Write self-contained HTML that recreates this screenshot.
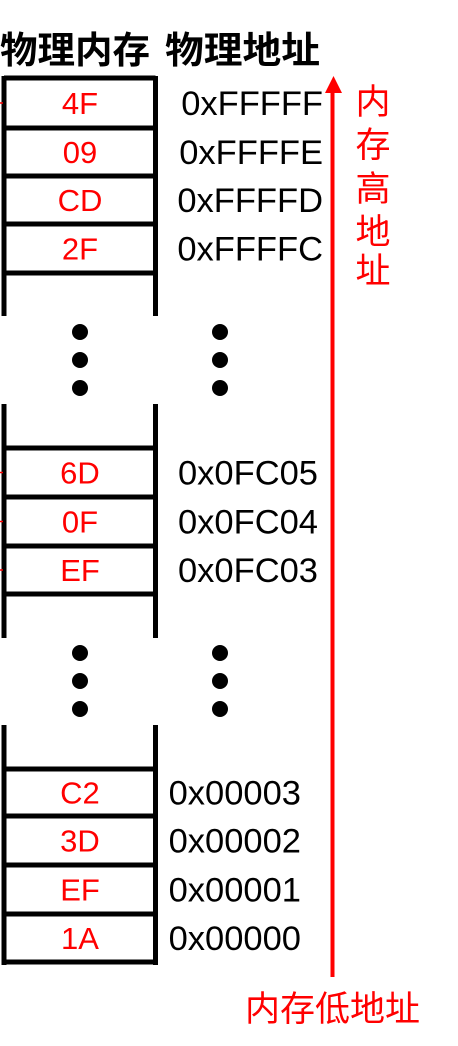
<!DOCTYPE html>
<html><head><meta charset="utf-8"><style>
html,body{margin:0;padding:0;background:#fff;}
svg{display:block}
.t{font-family:"Liberation Sans","Noto Sans CJK SC",sans-serif;}
</style></head><body>
<svg width="458" height="1046" viewBox="0 0 458 1046" xmlns="http://www.w3.org/2000/svg">
<text class="t" x="0" y="63" font-size="37" font-weight="bold" fill="#000" textLength="150" lengthAdjust="spacingAndGlyphs">物理内存</text>
<text class="t" x="165" y="63" font-size="37" font-weight="bold" fill="#000" textLength="155" lengthAdjust="spacingAndGlyphs">物理地址</text>
<g id="grp"></g>
<line x1="332.5" y1="92" x2="332.5" y2="977" stroke="#f00" stroke-width="4"/>
<polygon points="325,93 342,93 333.5,76" fill="#f00"/>
<g class="t" font-size="35" fill="#f00" text-anchor="middle">
<text x="373" y="114">内</text><text x="373" y="157">存</text><text x="373" y="201">高</text><text x="373" y="244">地</text><text x="373" y="283">址</text>
</g>
<text class="t" x="245" y="1021" font-size="35" fill="#f00" textLength="175" lengthAdjust="spacingAndGlyphs">内存低地址</text>
</svg>
<script>
const groups = [
  {top:76, bottom:316, lines:[78,128,176,224,273], vals:['4F','09','CD','2F'], addrs:['0xFFFFF','0xFFFFE','0xFFFFD','0xFFFFC'], addrRight:323, ticks:[0]},
  {top:404, bottom:638, lines:[448,497,546,594], vals:['6D','0F','EF'], addrs:['0x0FC05','0x0FC04','0x0FC03'], addrRight:318, ticks:[0,1,2]},
  {top:725, bottom:965, lines:[769,816,865,914,962], vals:['C2','3D','EF','1A'], addrs:['0x00003','0x00002','0x00001','0x00000'], addrRight:301, ticks:[]}
];
const dotYs = [[332,360,388],[653,681,709]];
const NS='http://www.w3.org/2000/svg';
const g=document.getElementById('grp');
function mk(tag,attrs){const e=document.createElementNS(NS,tag);for(const k in attrs)e.setAttribute(k,attrs[k]);g.appendChild(e);return e;}
groups.forEach((gr,gi)=>{
  let e=mk('line',{x1:4,y1:gr.top,x2:4,y2:gr.bottom,stroke:'#000','stroke-width':5});
  
  
  e=mk('line',{x1:155.5,y1:gr.top,x2:155.5,y2:gr.bottom,stroke:'#000','stroke-width':5});
  
  
  gr.lines.forEach(y=>{
    const l=mk('line',{x1:4,y1:y,x2:155.5,y2:y,stroke:'#000','stroke-width':5});
    
    
  });
  gr.vals.forEach((v,i)=>{
    const y0 = gr.lines[i], y1 = gr.lines[i+1];
    const cy=(y0+y1)/2;
    const t=mk('text',{x:80,y:cy+11,'font-size':31,fill:'#f00','text-anchor':'middle',class:'t'});
    t.textContent=v;
    
    
    if(gr.ticks.includes(i)){
      const r=mk('line',{x1:0,y1:cy,x2:3,y2:cy,stroke:'#f00','stroke-width':1.5});
      
      
    }
    const a=mk('text',{x:gr.addrRight,y:cy+12,'font-size':34.5,fill:'#000','text-anchor':'end',class:'t'});
    a.textContent=gr.addrs[i];
    
    
  });
});
dotYs.forEach(ys=>ys.forEach(y=>{
  [80,220].forEach(x=>{
    const c=mk('circle',{cx:x,cy:y,r:8,fill:'#000'});
    
    
  });
}));
</script>
</body></html>
